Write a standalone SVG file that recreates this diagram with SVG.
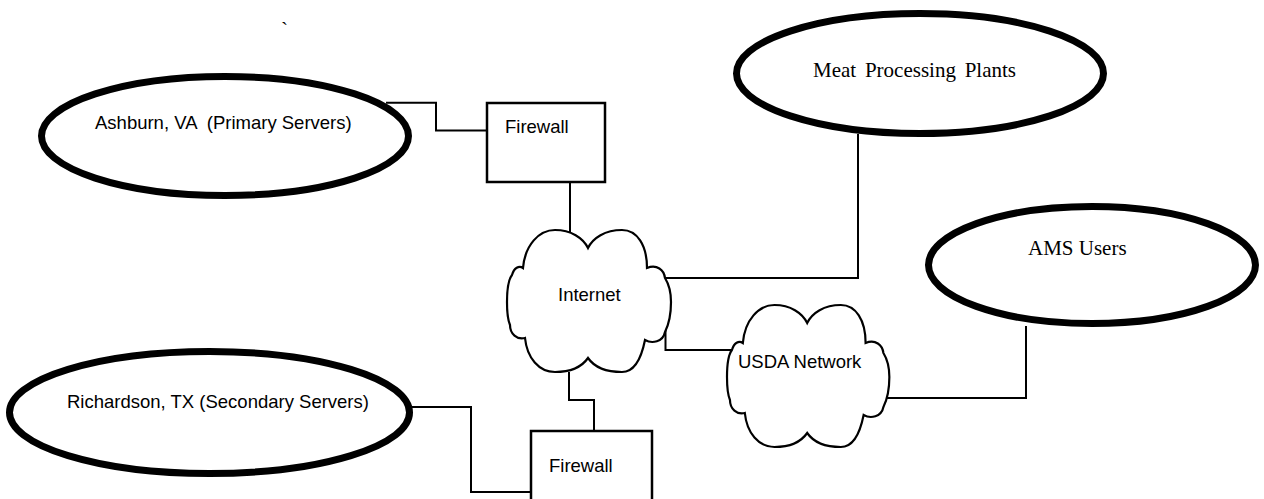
<svg xmlns="http://www.w3.org/2000/svg" width="1264" height="499" viewBox="0 0 1264 499">
<style>
.site{fill:#fff;stroke:#000;stroke-width:7}
.box{fill:#fff;stroke:#000;stroke-width:2.5}
.cloud{fill:#fff;stroke:#000;stroke-width:2.2}
.wire{fill:none;stroke:#000;stroke-width:2}
.sans{font-family:"Liberation Sans",Arial,sans-serif;font-size:18.5px;fill:#000;white-space:pre}
.serif{font-family:"Liberation Serif","Times New Roman",serif;font-size:21px;fill:#000;white-space:pre}
</style>
<defs>
<path id="cloudShape" d="M16,38 C18,15 32,0 48,0 C64,0 76,8 81,18 C86,8 98,0 115,0 C130,0 140,15 140,38 C150,34 157,40 158,48 C163,56 164,64 164,72 C164,82 162,94 158,102 C156,112 145,114 138,110 C134,130 126,142 115,142 C100,142 88,138 81,128 C74,138 62,142 48,142 C32,142 20,128 18,108 C10,110 3,104 3,95 C0,88 0,80 0,72 C0,60 1,50 5,45 C7,38 12,35 16,38 Z"/>
</defs>
<rect width="1264" height="499" fill="#fff"/>
<text class="serif" x="281" y="37">`</text>
<g id="connectors">
<path class="wire" d="M386,102.7 H436 V130.5 H487"/>
<path class="wire" d="M570,182 V232"/>
<path class="wire" d="M665,278 H858 V134"/>
<path class="wire" d="M665.5,318 V350 H740"/>
<path class="wire" d="M569,372 V400 H594 V431"/>
<path class="wire" d="M406,407 H471 V492 H531"/>
<path class="wire" d="M880,398 H1026 V326"/>
</g>
<g id="ashburn">
<ellipse class="site" cx="225" cy="136" rx="183.5" ry="59.5"/>
<text class="sans" x="95" y="129">Ashburn, VA  (Primary Servers)</text>
</g>
<g id="firewall-top">
<rect class="box" x="487" y="103" width="118" height="79"/>
<text class="sans" x="505" y="133">Firewall</text>
</g>
<g id="meat">
<ellipse class="site" cx="920" cy="73.5" rx="183.5" ry="60"/>
<text class="serif" x="813" y="77" word-spacing="3.5">Meat Processing Plants</text>
</g>
<g id="internet">
<use href="#cloudShape" class="cloud" transform="translate(507,230)"/>
<text class="sans" x="558" y="301">Internet</text>
</g>
<g id="usda">
<use href="#cloudShape" class="cloud" transform="translate(727,305) scale(0.99,1)"/>
<text class="sans" x="738" y="368">USDA Network</text>
</g>
<g id="ams">
<ellipse class="site" cx="1092" cy="265" rx="163.5" ry="58.5"/>
<text class="serif" x="1028" y="255">AMS Users</text>
</g>
<g id="richardson">
<ellipse class="site" cx="209.5" cy="412.5" rx="200" ry="61"/>
<text class="sans" x="67" y="408">Richardson, TX (Secondary Servers)</text>
</g>
<g id="firewall-bottom">
<rect class="box" x="531" y="431" width="121" height="80"/>
<text class="sans" x="549" y="472">Firewall</text>
</g>
</svg>
